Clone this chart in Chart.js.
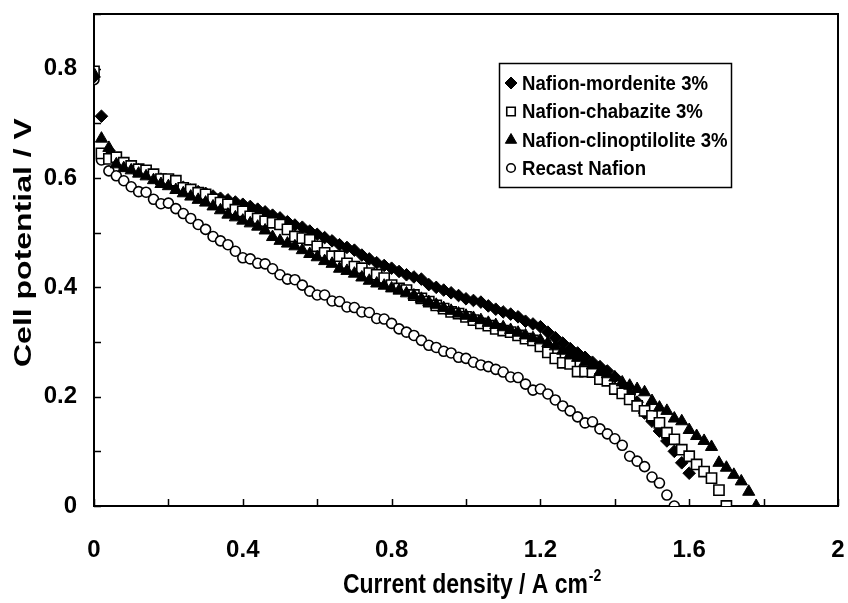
<!DOCTYPE html>
<html><head><meta charset="utf-8">
<script src="https://cdn.jsdelivr.net/npm/chart.js@4"></script>
<style>html,body{margin:0;padding:0;background:#fff}#wrap{width:848px;height:603px;position:relative}</style>
</head><body><div id="wrap"><canvas id="c" width="848" height="603"></canvas></div>
<script>
const currentDensity = [0,0.02,0.04,0.06,0.08,0.10,0.12,0.14,0.16,0.18,
 0.20,0.22,0.24,0.26,0.28,0.30,0.32,0.34,0.36,0.38,
 0.40,0.42,0.44,0.46,0.48,0.50,0.52,0.54,0.56,0.58,
 0.60,0.62,0.64,0.66,0.68,0.70,0.72,0.74,0.76,0.78,
 0.80,0.82,0.84,0.86,0.88,0.90,0.92,0.94,0.96,0.98,
 1.00,1.02,1.04,1.06,1.08,1.10,1.12,1.14,1.16,1.18,
 1.20,1.22,1.24,1.26,1.28,1.30,1.32,1.34,1.36,1.38,
 1.40,1.42,1.44,1.46,1.48,1.50,1.52,1.54,1.56,1.58,
 1.60,1.62,1.64,1.66,1.68,1.70,1.72,1.74,1.76,1.78];

const mordenite = [0.785,0.713,0.650,0.632,0.625,0.620,0.615,0.610,0.604,0.598,
 0.593,0.588,0.583,0.578,0.575,0.572,0.567,0.563,0.560,0.556,
 0.552,0.548,0.543,0.538,0.532,0.527,0.520,0.514,0.510,0.503,
 0.497,0.491,0.485,0.478,0.473,0.468,0.459,0.452,0.445,0.440,
 0.435,0.429,0.423,0.419,0.415,0.405,0.400,0.395,0.390,0.385,
 0.379,0.376,0.373,0.366,0.360,0.355,0.351,0.346,0.338,0.333,
 0.328,0.318,0.308,0.298,0.288,0.280,0.272,0.263,0.255,0.247,
 0.236,0.222,0.205,0.190,0.170,0.155,0.137,0.119,0.100,0.079,
 0.060];

const chabazite = [0.795,0.645,0.635,0.638,0.628,0.622,0.616,0.614,0.607,0.598,
 0.598,0.595,0.582,0.579,0.573,0.570,0.561,0.555,0.552,0.542,
 0.539,0.530,0.526,0.521,0.518,0.515,0.506,0.493,0.490,0.487,
 0.475,0.463,0.457,0.457,0.444,0.438,0.435,0.426,0.423,0.417,
 0.404,0.398,0.395,0.386,0.380,0.374,0.367,0.361,0.355,0.352,
 0.346,0.340,0.334,0.330,0.324,0.321,0.318,0.312,0.306,0.303,
 0.292,0.281,0.270,0.262,0.260,0.246,0.246,0.245,0.232,0.229,
 0.214,0.206,0.195,0.183,0.174,0.165,0.152,0.134,0.122,0.103,
 0.091,0.076,0.063,0.051,0.029,0.000];

const clinoptilolite = [0.790,0.672,0.655,0.625,0.618,0.614,0.608,0.603,0.596,0.589,
 0.585,0.578,0.572,0.566,0.560,0.555,0.548,0.541,0.533,0.528,
 0.522,0.517,0.511,0.504,0.492,0.485,0.480,0.475,0.468,0.461,
 0.455,0.448,0.443,0.434,0.430,0.425,0.418,0.412,0.407,0.403,
 0.398,0.394,0.389,0.385,0.379,0.373,0.368,0.362,0.357,0.352,
 0.348,0.344,0.340,0.335,0.331,0.327,0.322,0.317,0.312,0.307,
 0.303,0.298,0.292,0.284,0.277,0.271,0.263,0.257,0.245,0.241,
 0.235,0.226,0.220,0.214,0.208,0.192,0.180,0.174,0.160,0.155,
 0.139,0.128,0.119,0.108,0.079,0.070,0.057,0.045,0.026,0.000];

const recastNafion = [0.780,0.633,0.613,0.604,0.595,0.584,0.575,0.574,0.561,0.553,
 0.554,0.544,0.535,0.526,0.515,0.506,0.493,0.485,0.478,0.466,
 0.454,0.452,0.444,0.443,0.434,0.423,0.415,0.414,0.404,0.393,
 0.386,0.386,0.375,0.374,0.364,0.363,0.355,0.354,0.343,0.342,
 0.334,0.324,0.318,0.312,0.303,0.294,0.290,0.283,0.280,0.272,
 0.270,0.263,0.258,0.255,0.250,0.245,0.236,0.235,0.223,0.212,
 0.214,0.205,0.194,0.183,0.174,0.163,0.152,0.154,0.141,0.132,
 0.123,0.111,0.091,0.082,0.072,0.053,0.042,0.020,0.000];

const seriesNames = ['Nafion-mordenite 3%','Nafion-chabazite 3%','Nafion-clinoptilolite 3%','Recast Nafion'];
const xTickValues = [0,0.4,0.8,1.2,1.6,2];
const yTickValues = [0,0.2,0.4,0.6,0.8];
const xMinorTicks = [0,0.2,0.4,0.6,0.8,1.0,1.2,1.4,1.6,1.8,2.0];
const yMinorTicks = [0,0.1,0.2,0.3,0.4,0.5,0.6,0.7,0.8,0.9];
const xTitle = 'Current density / A cm';
const xTitleSup = '-2';
const yTitle = 'Cell potential / V';

const toPts = arr => arr.map((v,i)=>({x:currentDensity[i], y:v}));

const FONT = "'Liberation Sans', Arial, sans-serif";

const styles = [
  {pointStyle:'rectRot', radius:6.3, backgroundColor:'#000', borderColor:'#000', borderWidth:1, order:2},
  {pointStyle:'rect', radius:7.2, backgroundColor:'#fff', borderColor:'#000', borderWidth:1.6, order:1},
  {pointStyle:'triangle', radius:7, backgroundColor:'#000', borderColor:'#000', borderWidth:1, order:0},
  {pointStyle:'circle', radius:5, backgroundColor:'#fff', borderColor:'#000', borderWidth:1.6, order:3}
];
const seriesData = [mordenite, chabazite, clinoptilolite, recastNafion];

const datasets = seriesData.map((arr,i)=>({
  label: seriesNames[i],
  data: toPts(arr),
  showLine:false,
  pointStyle: styles[i].pointStyle,
  pointRadius: styles[i].radius,
  pointHoverRadius: styles[i].radius,
  pointBackgroundColor: styles[i].backgroundColor,
  pointBorderColor: styles[i].borderColor,
  pointBorderWidth: styles[i].borderWidth,
  order: styles[i].order
}));

const framePlugin = {
  id:'frame',
  beforeDatasetsDraw(chart){
    const {ctx, chartArea:a, scales:{x, y}} = chart;
    ctx.save();
    ctx.strokeStyle = '#000';
    ctx.lineWidth = 2;
    ctx.strokeRect(a.left, a.top, a.right-a.left, a.bottom-a.top);
    ctx.lineWidth = 1.5;
    ctx.beginPath();
    xMinorTicks.forEach(v=>{
      const px = Math.round(x.getPixelForValue(v))+0.5;
      ctx.moveTo(px, a.bottom); ctx.lineTo(px, a.bottom-7);
    });
    yMinorTicks.forEach(v=>{
      const py = Math.round(y.getPixelForValue(v))+0.5;
      ctx.moveTo(a.left, py); ctx.lineTo(a.left+7, py);
    });
    ctx.stroke();
    ctx.restore();
  },
  afterDraw(chart){
    const {ctx} = chart;
    ctx.save();
    ctx.fillStyle = '#000';
    // y title
    ctx.save();
    ctx.translate(31, 367);
    ctx.rotate(-Math.PI/2);
    ctx.scale(1.0, 0.72);
    ctx.font = "bold 32px " + FONT;
    ctx.textAlign = 'left';
    ctx.textBaseline = 'alphabetic';
    ctx.fillText(yTitle, 0, 0);
    ctx.restore();
    // x title
    ctx.save();
    ctx.translate(343, 593);
    ctx.scale(0.82, 1);
    ctx.font = "bold 28px " + FONT;
    ctx.textAlign = 'left';
    ctx.textBaseline = 'alphabetic';
    ctx.fillText(xTitle, 0, 0);
    const w = ctx.measureText(xTitle).width;
    ctx.font = "bold 17px " + FONT;
    ctx.fillText(xTitleSup, w + 1, -12);
    ctx.restore();
    // legend
    const bx = 499.5, by = 63.5, bw = 232, bh = 124;
    ctx.lineWidth = 1.5;
    ctx.strokeStyle = '#000';
    ctx.strokeRect(bx, by, bw, bh);
    const rowsY = [83, 111.5, 140, 168];
    const legRad = [6, 6, 6.5, 4.3];
    ctx.textBaseline = 'middle';
    ctx.textAlign = 'left';
    styles.forEach((s,i)=>{
      ctx.fillStyle = s.backgroundColor;
      ctx.strokeStyle = s.borderColor;
      ctx.lineWidth = s.borderWidth;
      Chart.helpers.drawPoint(ctx, {pointStyle:s.pointStyle, radius:legRad[i], rotation:0, borderWidth:s.borderWidth}, 511, rowsY[i]);
      ctx.save();
      ctx.translate(522, rowsY[i]+1);
      ctx.scale(0.93, 1);
      ctx.font = "bold 20px " + FONT;
      ctx.fillStyle = '#000';
      ctx.fillText(seriesNames[i], 0, 0);
      ctx.restore();
    });
    ctx.restore();
  }
};

function zeroPad(s){ s.paddingLeft = 0; s.paddingRight = 0; s.paddingTop = 0; s.paddingBottom = 0; }

new Chart(document.getElementById('c'), {
  type:'scatter',
  data:{datasets},
  options:{
    responsive:false,
    animation:false,
    devicePixelRatio:1,
    layout:{padding:{top:14, right:10, left:0, bottom:0}},
    plugins:{legend:{display:false}, tooltip:{enabled:false}},
    scales:{
      x:{
        type:'linear', min:0, max:2,
        afterBuildTicks(s){ s.ticks = xTickValues.map(v=>({value:v})); },
        afterFit(s){ s.height = 97; zeroPad(s); },
        grid:{display:false, drawTicks:false},
        border:{display:false},
        ticks:{padding:30, color:'#000', font:{family:FONT, size:24, weight:'bold'}, maxRotation:0,
          callback:(v)=>String(v)}
      },
      y:{
        type:'linear', min:0, max:0.9,
        afterBuildTicks(s){ s.ticks = yTickValues.map(v=>({value:v})); },
        afterFit(s){ s.width = 94; zeroPad(s); },
        grid:{display:false, drawTicks:false},
        border:{display:false},
        ticks:{padding:17, color:'#000', font:{family:FONT, size:24, weight:'bold'},
          callback:(v)=>String(v)}
      }
    }
  },
  plugins:[framePlugin]
});
</script></body></html>
